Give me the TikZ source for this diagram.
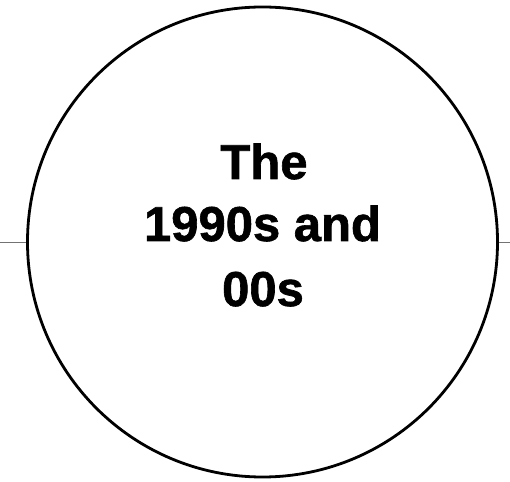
\documentclass[tikz,border=0pt]{standalone}
\usepackage{fontspec}
\setmainfont{Liberation Sans}
\newfontfamily\heavyfont{Liberation Sans Bold}[FakeBold=1.3]
\begin{document}
\begin{tikzpicture}[x=1pt,y=1pt,
  ring/.style={circle,draw=black,line width=2.8pt,minimum size=470pt,inner sep=0pt},
  axis/.style={draw=black!55,line width=1pt},
  label/.style={font=\heavyfont\fontsize{49}{63}\selectfont,anchor=base,inner sep=0pt}]
\useasboundingbox (0,0) rectangle (510,481);
\coordinate (L) at (0,238);
\coordinate (R) at (510,238);
\node[ring] (c) at (262.5,239) {};
\draw[axis] (L) -- (L -| c.west);
\draw[axis] (R) -- (R -| c.east);
\node[label] (t1) at (264,302) {The};
\node[label] (t2) at (262.5,240) {1990s and};
\node[label] (t3) at (263,175) {00s};
\end{tikzpicture}
\end{document}
